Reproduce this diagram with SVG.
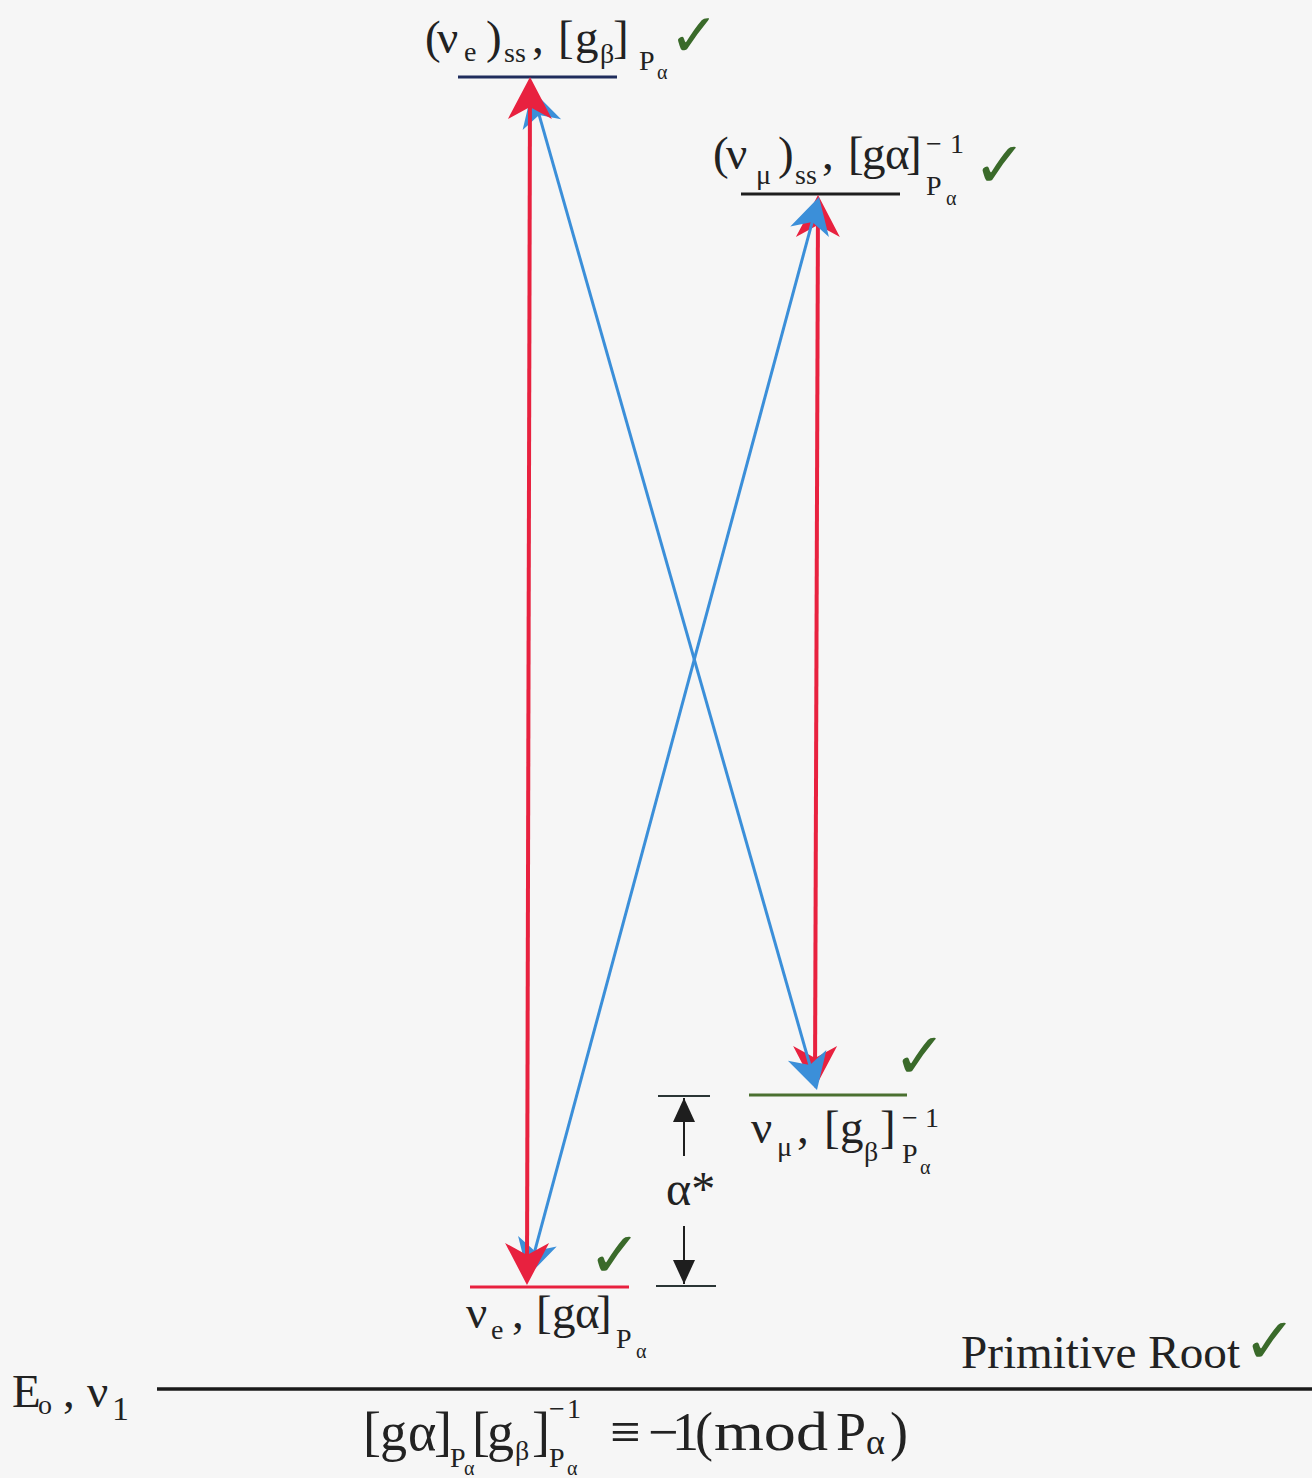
<svg xmlns="http://www.w3.org/2000/svg" width="1312" height="1478" viewBox="0 0 1312 1478">
<style>
.t{font-family:"Liberation Serif","Times New Roman",serif;fill:#222;font-size:47px}
.s{font-size:28px}
.ss{font-size:20px}
.eq{font-size:54px}
.chk{font-family:"DejaVu Sans",sans-serif;fill:#3a6a2a;font-size:64px}
.red{stroke:#e8213f;stroke-width:4;fill:none}
.blue{stroke:#3b8fd9;stroke-width:3;fill:none}
.lvl{stroke-width:3;fill:none}
.tick{stroke:#2a3535;stroke-width:2;fill:none}
</style>
<defs>
<marker id="rh" markerUnits="userSpaceOnUse" orient="auto-start-reverse" refX="0" refY="0" markerWidth="60" markerHeight="60" overflow="visible">
<path d="M8,0 L-34,-22 L-22,0 L-34,22 Z" fill="#e8213f"/>
</marker>
<marker id="bh" markerUnits="userSpaceOnUse" orient="auto-start-reverse" refX="0" refY="0" markerWidth="60" markerHeight="60" overflow="visible">
<path d="M8,0 L-28,-20 L-18,0 L-28,20 Z" fill="#3b8fd9"/>
</marker>
<marker id="kh" markerUnits="userSpaceOnUse" orient="auto" refX="0" refY="0" markerWidth="30" markerHeight="30" overflow="visible">
<path d="M0,0 L-24,-11 L-24,11 Z" fill="#1e1e1e"/>
</marker>
</defs>
<rect width="1312" height="1478" fill="#f6f6f6"/>

<g id="level-top">
<line x1="458" y1="77" x2="617" y2="77" class="lvl" stroke="#1f2d5c"/>
<text class="t" y="53"><tspan x="425">(</tspan><tspan x="437">ν</tspan><tspan x="464" y="61" class="s">e</tspan><tspan x="486" y="53">)</tspan><tspan x="504" y="62" class="s">ss</tspan><tspan x="532" y="53">,</tspan><tspan x="558">[</tspan><tspan x="575">g</tspan><tspan x="600" y="63" class="s">β</tspan><tspan x="613" y="53">]</tspan><tspan x="639" y="70" class="s">P</tspan><tspan x="657" y="79" class="ss">α</tspan></text>
<text class="chk" x="669" y="56" style="font-size:60px">✓</text>
</g>

<g id="level-right-top">
<line x1="741" y1="194" x2="900" y2="194" class="lvl" stroke="#1e1e1e"/>
<text class="t" y="169"><tspan x="713">(</tspan><tspan x="726">ν</tspan><tspan x="756" y="184" class="s">μ</tspan><tspan x="778" y="169">)</tspan><tspan x="795" y="184" class="s">ss</tspan><tspan x="822" y="169">,</tspan><tspan x="848">[</tspan><tspan x="862">g</tspan><tspan x="885">α</tspan><tspan x="906">]</tspan><tspan x="926" y="153" class="s">−</tspan><tspan x="950" y="153" class="s">1</tspan><tspan x="926" y="195" class="s">P</tspan><tspan x="946" y="205" class="ss">α</tspan></text>
<text class="chk" x="973" y="187">✓</text>
</g>

<g id="level-right-bottom">
<line x1="749" y1="1095" x2="907" y2="1095" class="lvl" stroke="#4a7030"/>
<text class="t" y="1143"><tspan x="751">ν</tspan><tspan x="777" y="1156" class="s">μ</tspan><tspan x="797" y="1143">,</tspan><tspan x="824">[</tspan><tspan x="840">g</tspan><tspan x="864" y="1161" class="s">β</tspan><tspan x="880" y="1143">]</tspan><tspan x="902" y="1127" class="s">−</tspan><tspan x="925" y="1127" class="s">1</tspan><tspan x="902" y="1163" class="s">P</tspan><tspan x="920" y="1174" class="ss">α</tspan></text>
<text class="chk" x="893" y="1078">✓</text>
</g>

<g id="level-bottom-left">
<line x1="470" y1="1287" x2="629" y2="1287" class="lvl" stroke="#e8213f"/>
<text class="t" y="1328"><tspan x="466">ν</tspan><tspan x="491" y="1339" class="s">e</tspan><tspan x="512" y="1328">,</tspan><tspan x="536">[</tspan><tspan x="552">g</tspan><tspan x="575">α</tspan><tspan x="596">]</tspan><tspan x="616" y="1348" class="s">P</tspan><tspan x="636" y="1358" class="ss">α</tspan></text>
<text class="chk" x="588" y="1277">✓</text>
</g>

<g id="alpha-gap">
<line x1="658" y1="1096" x2="710" y2="1096" class="tick"/>
<line x1="656" y1="1286" x2="716" y2="1286" class="tick"/>
<line x1="684" y1="1156" x2="684" y2="1098" stroke="#1e1e1e" stroke-width="2" marker-end="url(#kh)"/>
<line x1="684" y1="1226" x2="684" y2="1284" stroke="#1e1e1e" stroke-width="2" marker-end="url(#kh)"/>
<text class="t" x="666" y="1205" style="font-size:48px">α*</text>
</g>

<g id="ground">
<line x1="157" y1="1389" x2="1312" y2="1389" stroke="#1a1a1a" stroke-width="3.5"/>
<text class="t" y="1407" style="font-size:47px"><tspan x="12">E</tspan><tspan x="38" y="1414" class="s">o</tspan><tspan x="63" y="1407">,</tspan><tspan x="87">ν</tspan><tspan x="112" y="1420" style="font-size:34px">1</tspan></text>
<text class="t" x="961" y="1368" style="font-size:46px" textLength="279" lengthAdjust="spacingAndGlyphs">Primitive Root</text>
<text class="chk" x="1243" y="1363">✓</text>
<text class="t eq" y="1450"><tspan x="363">[</tspan><tspan x="380">g</tspan><tspan x="408">α</tspan><tspan x="434">]</tspan><tspan x="450" y="1467" class="s">P</tspan><tspan x="464" y="1475" class="ss">α</tspan><tspan x="472" y="1450">[</tspan><tspan x="487">g</tspan><tspan x="515" y="1460" class="s">β</tspan><tspan x="532" y="1450">]</tspan><tspan x="549" y="1418" class="s">−</tspan><tspan x="567" y="1418" class="s">1</tspan><tspan x="549" y="1467" class="s">P</tspan><tspan x="567" y="1475" class="ss">α</tspan><tspan x="610" y="1450">≡</tspan><tspan x="648">−</tspan><tspan x="672">1</tspan><tspan x="695">(</tspan><tspan x="714" textLength="114" lengthAdjust="spacingAndGlyphs">mod</tspan><tspan x="836">P</tspan><tspan x="866" y="1454" style="font-size:36px">α</tspan><tspan x="890" y="1450">)</tspan></text>
</g>

<g id="connectors">
<line x1="818" y1="203" x2="815" y2="1080" class="red" marker-start="url(#rh)" marker-end="url(#rh)"/>
<line x1="534.2" y1="97.7" x2="814.8" y2="1082.3" class="blue" marker-start="url(#bh)" marker-end="url(#bh)"/>
<line x1="530.1" y1="1268.3" x2="816.9" y2="204.7" class="blue" marker-start="url(#bh)" marker-end="url(#bh)"/>
<line x1="530" y1="85" x2="527" y2="1277" class="red" marker-start="url(#rh)" marker-end="url(#rh)"/>
</g>
</svg>
